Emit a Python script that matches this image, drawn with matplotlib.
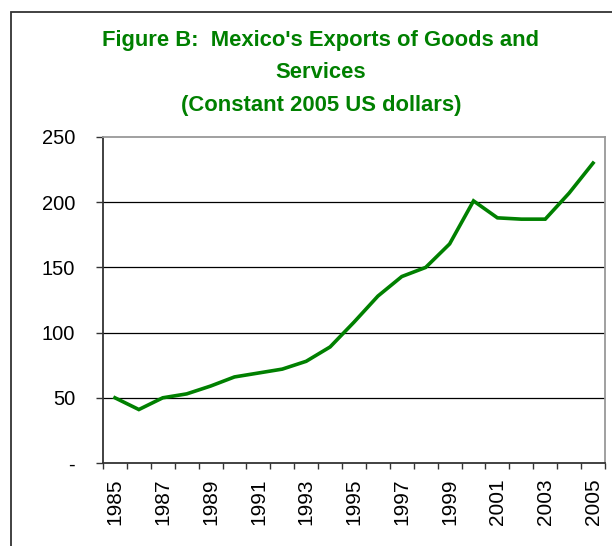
import matplotlib.pyplot as plt
from matplotlib.patches import Rectangle

plt.rcParams['font.family'] = ['Liberation Sans', 'DejaVu Sans']

years = list(range(1985, 2006))
exports = [50, 41, 50, 53, 59, 66, 69, 72, 78, 89, 108, 128,
           143, 150, 168, 201, 188, 187, 187, 207, 230]
y_ticks = [0, 50, 100, 150, 200, 250]
y_labels = ['-', '50', '100', '150', '200', '250']

title = "Figure B:  Mexico's Exports of Goods and\nServices\n(Constant 2005 US dollars)"
green = '#008000'

fig = plt.figure(figsize=(6.12, 5.46), dpi=100)
ax = fig.add_axes([103 / 612, 1 - 463 / 546, 502 / 612, 326 / 546])

# outer chart frame (left and top edges visible)
fig.patches.append(Rectangle((11 / 612, -0.1), 1.2, 1 - 12 / 546 + 0.1,
                             transform=fig.transFigure, fill=False,
                             edgecolor='#333333', linewidth=1.3))

# one category per year, points drawn at category centres
xs = [i + 0.5 for i in range(len(years))]
ax.plot(xs, exports, color=green, linewidth=2.6, solid_joinstyle='miter', zorder=3)

ax.set_xlim(0, len(years))
ax.set_ylim(0, 250)

ax.set_yticks(y_ticks)
ax.set_yticklabels(y_labels)
for v in y_ticks[1:-1]:
    ax.axhline(v, color='black', linewidth=0.9, zorder=1)

# tick marks on category boundaries, labels on every other category
ax.set_xticks(range(len(years) + 1))
ax.set_xticklabels([])
ax.set_xticks(xs[::2], minor=True)
ax.set_xticklabels([str(y) for y in years[::2]], minor=True, rotation=90)
ax.tick_params(axis='x', which='major', length=4, width=1, color='#333333', direction='out')
ax.tick_params(axis='x', which='minor', length=0, pad=11, labelsize=15)
ax.tick_params(axis='y', length=5, width=1, color='#333333', pad=15, labelsize=14.5)

for s in ['left', 'bottom']:
    ax.spines[s].set_color('#333333')
    ax.spines[s].set_linewidth(1.3)
for s in ['top', 'right']:
    ax.spines[s].set_color('#999999')
    ax.spines[s].set_linewidth(1.3)

fig.text(321 / 612, 1 - 73 / 546, title, ha='center', va='center', color=green,
         fontsize=15.8, fontweight='bold', linespacing=1.72)

fig.savefig('out.png', dpi=100)
